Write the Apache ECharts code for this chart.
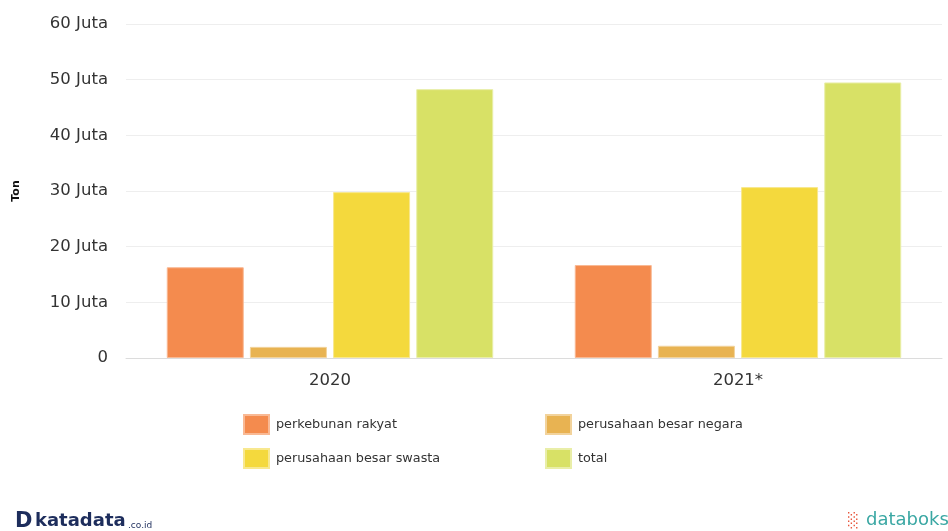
<!DOCTYPE html>
<html>
<head>
<meta charset="utf-8">
<script src="https://cdn.jsdelivr.net/npm/echarts@6/dist/echarts.min.js"></script>
<style>
html,body{margin:0;padding:0;background:#fff;}
#c{width:948px;height:531px;}
</style>
</head>
<body>
<div id="c"></div>
<script>
// Data (values in Juta / millions of tons)
const categories = ['2020', '2021*'];
const seriesNames = ['perkebunan rakyat', 'perusahaan besar negara', 'perusahaan besar swasta', 'total'];
const perkebunanRakyat = [16.3, 16.7];
const perusahaanBesarNegara = [2.0, 2.2];
const perusahaanBesarSwasta = [29.8, 30.7];
const total = [48.3, 49.5];
const yTicks = [0, 10, 20, 30, 40, 50, 60];

const colors = ['#F48B4E', '#E8B352', '#F4D93D', '#D8E166'];
const borders = ['#F9B994', '#F2D39C', '#F8E88F', '#E9EEA8'];
const values = [perkebunanRakyat, perusahaanBesarNegara, perusahaanBesarSwasta, total];

const chart = echarts.init(document.getElementById('c'));
const font = '"DejaVu Sans", Verdana, sans-serif';

const legendBase = {
  orient: 'vertical', top: 414, padding: 0,
  itemWidth: 25, itemHeight: 19, itemGap: 13,
  icon: 'rect',
  textStyle: { fontFamily: font, fontSize: 12.8, color: '#333', padding: [0, 0, 0, 2] }
};

chart.setOption({
  animation: false,
  textStyle: { fontFamily: font },
  grid: { left: 126, right: 6, top: 24, bottom: 173 },
  legend: [
    Object.assign({ data: [seriesNames[0], seriesNames[2]], left: 243 }, legendBase),
    Object.assign({ data: [seriesNames[1], seriesNames[3]], left: 545 }, legendBase)
  ],
  xAxis: {
    type: 'category',
    data: categories,
    axisLine: { lineStyle: { color: '#dcdcdc', width: 1 } },
    axisTick: { alignWithLabel: true, length: 5, lineStyle: { color: '#cccccc' } },
    axisLabel: { fontSize: 16.5, color: '#333', margin: 14, fontFamily: font }
  },
  yAxis: {
    type: 'value',
    min: yTicks[0], max: yTicks[yTicks.length - 1], interval: 10,
    name: 'Ton', nameLocation: 'middle', nameGap: 104, nameRotate: 90,
    nameTextStyle: { fontSize: 11, fontWeight: 'bold', color: '#111', fontFamily: font },
    axisLine: { show: false },
    axisTick: { show: false },
    splitLine: { lineStyle: { color: '#eeeeee', width: 1 } },
    axisLabel: {
      fontSize: 16.5, color: '#333', margin: 18, fontFamily: font,
      formatter: v => v === 0 ? '0' : v + ' Juta'
    }
  },
  series: seriesNames.map((n, i) => ({
    name: n,
    type: 'bar',
    data: values[i],
    barWidth: 77,
    barGap: '8%',
    itemStyle: { color: colors[i], borderColor: borders[i], borderWidth: 1 }
  })),
  graphic: [
    { type: 'text', left: 15, top: 511, style: { text: 'D', font: 'bold 21px ' + font, fill: '#1d2d5c' } },
    { type: 'text', left: 35, top: 512, style: { text: 'katadata', font: 'bold 18px ' + font, fill: '#1d2d5c' } },
    { type: 'text', left: 128, top: 521, style: { text: '.co.id', font: '9px ' + font, fill: '#1d2d5c' } },
    { type: 'text', left: 848, top: 514, style: { text: '\u2591', font: '14px ' + font, fill: '#e8553b' } },
    { type: 'text', left: 866, top: 511, style: { text: 'databoks', font: '18px ' + font, fill: '#3aa7a3' } }
  ]
});
</script>
</body>
</html>
